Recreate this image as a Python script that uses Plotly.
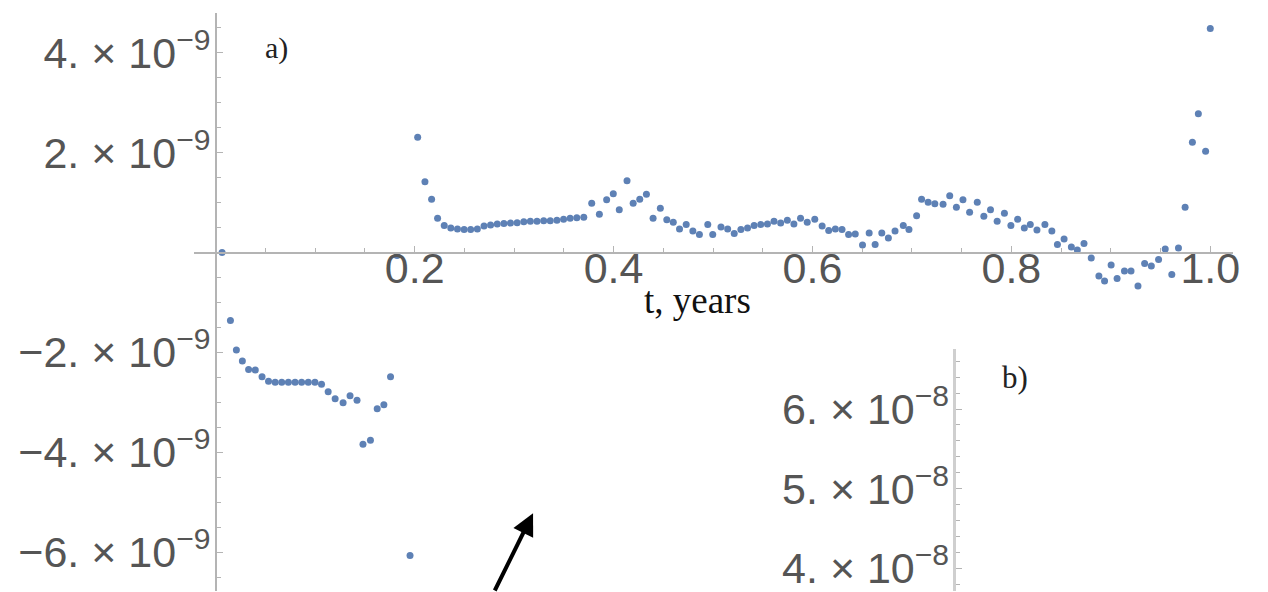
import plotly.graph_objects as go

# ---- data (panel a): time in years, deviation in units of 1e-9 ----
t_years = [
    0.0063, 0.0147, 0.0207, 0.0267, 0.0330, 0.0397, 0.0465, 0.0530, 0.0597, 0.0663,
    0.0730, 0.0797, 0.0863, 0.0930, 0.0997, 0.1063, 0.1130, 0.1200, 0.1280, 0.1350,
    0.1420, 0.1480, 0.1555, 0.1623, 0.1690, 0.1757, 0.1823, 0.1953,
    0.2030, 0.2103, 0.2170, 0.2230, 0.2297, 0.2363, 0.2430, 0.2497, 0.2563, 0.2630,
    0.2697, 0.2763, 0.2830, 0.2897, 0.2963, 0.3030, 0.3097, 0.3163, 0.3230, 0.3297,
    0.3363, 0.3430, 0.3497, 0.3563, 0.3630, 0.3700, 0.3780, 0.3857, 0.3930, 0.3997,
    0.4057, 0.4135, 0.4197, 0.4263, 0.4330, 0.4397, 0.4470, 0.4535, 0.4600, 0.4663,
    0.4730, 0.4797, 0.4863, 0.4947, 0.4997, 0.5080, 0.5147, 0.5213, 0.5280, 0.5347,
    0.5413, 0.5480, 0.5547, 0.5613, 0.5680, 0.5747, 0.5813, 0.5880, 0.5947, 0.6023,
    0.6097, 0.6163, 0.6230, 0.6297, 0.6363, 0.6430, 0.6503, 0.6570, 0.6630, 0.6697,
    0.6763, 0.6830, 0.6913, 0.6970, 0.7047, 0.7097, 0.7163, 0.7230, 0.7313, 0.7380,
    0.7447, 0.7513, 0.7580, 0.7657, 0.7723, 0.7790, 0.7857, 0.7930, 0.7995, 0.8063,
    0.8130, 0.8190, 0.8257, 0.8337, 0.8407, 0.8463, 0.8530, 0.8603, 0.8663, 0.8730,
    0.8803, 0.8880, 0.8937, 0.9003, 0.9063, 0.9137, 0.9203, 0.9273, 0.9340, 0.9407,
    0.9480, 0.9547, 0.9613, 0.9680, 0.9747, 0.9820, 0.9880, 0.9953, 1.0000,
]
deviation_e9 = [
    0.00, -1.36, -1.95, -2.17, -2.34, -2.35, -2.49, -2.58, -2.60, -2.60,
    -2.60, -2.60, -2.60, -2.60, -2.60, -2.64, -2.79, -2.93, -3.01, -2.87,
    -2.96, -3.84, -3.76, -3.13, -3.05, -2.49, -0.06, -6.07,
    2.31, 1.42, 1.07, 0.69, 0.54, 0.49, 0.47, 0.46, 0.46, 0.47,
    0.53, 0.55, 0.57, 0.58, 0.59, 0.60, 0.62, 0.63, 0.63, 0.64,
    0.64, 0.65, 0.67, 0.69, 0.70, 0.71, 0.99, 0.77, 1.06, 1.18,
    0.86, 1.44, 0.99, 1.07, 1.17, 0.69, 0.89, 0.66, 0.61, 0.47,
    0.56, 0.43, 0.36, 0.56, 0.36, 0.51, 0.47, 0.38, 0.46, 0.49,
    0.54, 0.56, 0.57, 0.63, 0.59, 0.65, 0.57, 0.69, 0.61, 0.67,
    0.53, 0.44, 0.47, 0.46, 0.36, 0.37, 0.15, 0.39, 0.16, 0.39,
    0.29, 0.43, 0.54, 0.46, 0.74, 1.07, 1.01, 0.98, 0.97, 1.14,
    0.91, 1.06, 0.81, 1.01, 0.73, 0.86, 0.63, 0.79, 0.54, 0.67,
    0.49, 0.56, 0.45, 0.56, 0.43, 0.16, 0.27, 0.11, 0.05, 0.18,
    -0.11, -0.47, -0.57, -0.25, -0.52, -0.37, -0.37, -0.67, -0.22, -0.27,
    -0.14, 0.07, -0.44, 0.09, 0.91, 2.21, 2.78, 2.03, 4.49,
]

# tick labels
a_xtick_vals = [0.2, 0.4, 0.6, 0.8, 1.0]
a_xtick_text = ["0.2", "0.4", "0.6", "0.8", "1.0"]
a_ytick_vals = [-6e-9, -4e-9, -2e-9, 2e-9, 4e-9]
a_ytick_text = ["−6. × 10<sup>−9</sup>", "−4. × 10<sup>−9</sup>", "−2. × 10<sup>−9</sup>",
                "2. × 10<sup>−9</sup>", "4. × 10<sup>−9</sup>"]
b_ytick_vals = [4e-8, 5e-8, 6e-8]
b_ytick_text = ["4. × 10<sup>−8</sup>", "5. × 10<sup>−8</sup>", "6. × 10<sup>−8</sup>"]

W, H = 1268, 592
AX = "#b4b4b4"
TICKFONT = dict(family="Liberation Sans, Arial, sans-serif", size=43, color="#555555")
MARK = "#5E81B5"

fig = go.Figure()
fig.add_trace(go.Scatter(
    x=t_years, y=[v * 1e-9 for v in deviation_e9], mode="markers",
    marker=dict(color=MARK, size=7, line=dict(width=0)),
    xaxis="x", yaxis="y", showlegend=False, hoverinfo="skip",
))
# invisible trace to materialise panel b axes
fig.add_trace(go.Scatter(x=[None], y=[None], xaxis="x2", yaxis="y2", showlegend=False))

fig.update_layout(
    width=W, height=H, margin=dict(l=0, r=0, t=0, b=0),
    paper_bgcolor="white", plot_bgcolor="rgba(0,0,0,0)",
    xaxis=dict(
        domain=[195 / W, 1240 / W], range=[-0.022, 1.023],
        anchor="free", position=1 - 253 / H,
        showline=True, linecolor=AX, linewidth=1.5,
        showgrid=False, zeroline=False,
        tickmode="array", tickvals=a_xtick_vals, ticktext=a_xtick_text,
        ticks="inside", ticklen=6, tickcolor=AX, tickwidth=1,
        minor=dict(tickmode="linear", tick0=0, dtick=0.05, ticks="inside", ticklen=4, tickcolor=AX),
        tickfont=TICKFONT, ticklabelstandoff=-22, ticklabeloverflow="allow",
    ),
    yaxis=dict(
        domain=[0, 1 - 13 / H], range=[-6.78e-9, 4.8e-9],
        anchor="free", position=217 / W,
        showline=True, linecolor=AX, linewidth=1.5,
        showgrid=False, zeroline=False,
        tickmode="array", tickvals=a_ytick_vals, ticktext=a_ytick_text,
        ticks="inside", ticklen=6, tickcolor=AX, tickwidth=1,
        minor=dict(tickmode="linear", tick0=0, dtick=0.5e-9, ticks="inside", ticklen=4, tickcolor=AX),
        tickfont=TICKFONT, ticklabelstandoff=-4, ticklabeloverflow="allow",
    ),
    xaxis2=dict(domain=[959 / W, 1.0], range=[0, 1], visible=False, anchor="y2"),
    yaxis2=dict(
        domain=[0, 1 - 350 / H], range=[3.7125e-8, 6.75e-8],
        anchor="free", position=959 / W,
        showline=True, linecolor="#cfcfcf", linewidth=3,
        showgrid=False, zeroline=False,
        tickmode="array", tickvals=b_ytick_vals, ticktext=b_ytick_text,
        ticks="inside", ticklen=6, tickcolor=AX, tickwidth=1,
        minor=dict(tickmode="linear", tick0=0, dtick=0.2e-8, ticks="inside", ticklen=4, tickcolor=AX),
        tickfont=TICKFONT, ticklabelstandoff=-5, ticklabeloverflow="allow",
    ),
)

SERIF = "Liberation Serif, Times New Roman, serif"
fig.add_annotation(text="a)", xref="paper", yref="paper", x=278 / W, y=1 - 48 / H,
                   xanchor="center", yanchor="middle",
                   showarrow=False, font=dict(family=SERIF, size=30, color="#222222"))
fig.add_annotation(text="b)", xref="paper", yref="paper", x=1021 / W, y=1 - 378 / H,
                   xanchor="center", yanchor="middle",
                   showarrow=False, font=dict(family=SERIF, size=31, color="#222222"))
fig.add_annotation(text="t, years", xref="paper", yref="paper", x=701 / W, y=1 - 301 / H,
                   xanchor="center", yanchor="middle",
                   showarrow=False, font=dict(family=SERIF, size=37, color="#111111"))
# arrow
fig.add_annotation(text="", xref="paper", yref="paper", x=536 / W, y=1 - 514 / H,
                   axref="pixel", ayref="pixel", ax=-39, ay=80,
                   showarrow=True, arrowhead=2, arrowsize=1.1, arrowwidth=4, arrowcolor="black")

fig.write_html("out.html")
